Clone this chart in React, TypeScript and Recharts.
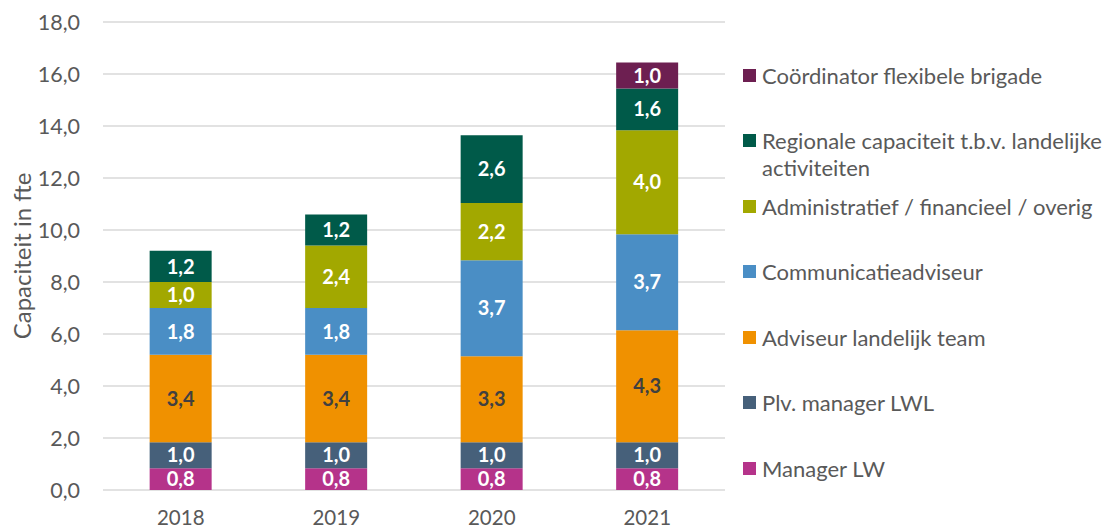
import { BarChart, Bar, XAxis, YAxis, CartesianGrid, Legend, LabelList, Label } from "recharts";

const years = ["2018", "2019", "2020", "2021"];

const managerLW = [0.84, 0.84, 0.84, 0.84];
const plvManager = [1.0, 1.0, 1.0, 1.0];
const adviseurTeam = [3.36, 3.36, 3.3, 4.3];
const communicatie = [1.8, 1.8, 3.7, 3.7];
const administratief = [1.0, 2.4, 2.2, 4.0];
const regionaal = [1.2, 1.2, 2.6, 1.6];
const coordinator = [0, 0, 0, 1.0];

const yTicks = [0, 2, 4, 6, 8, 10, 12, 14, 16, 18];

const FONT = "Lato, 'Noto Sans', sans-serif";
const GREY = "#595959";

// bottom to top
const series = [
  { key: "managerLW", name: "Manager LW", color: "#B5338A", text: "#ffffff", values: managerLW },
  { key: "plvManager", name: "Plv. manager LWL", color: "#46607A", text: "#ffffff", values: plvManager },
  { key: "adviseurTeam", name: "Adviseur landelijk team", color: "#F09100", text: "#404040", values: adviseurTeam },
  { key: "communicatie", name: "Communicatieadviseur", color: "#4A8EC5", text: "#ffffff", values: communicatie },
  { key: "administratief", name: "Administratief / financieel / overig", color: "#A2A800", text: "#ffffff", values: administratief },
  { key: "regionaal", name: "Regionale capaciteit t.b.v. landelijke activiteiten", color: "#005A49", text: "#ffffff", values: regionaal },
  { key: "coordinator", name: "Coördinator flexibele brigade", color: "#6D1F51", text: "#ffffff", values: coordinator },
];

const data = years.map((year, i) => {
  const row: Record<string, string | number> = { year };
  series.forEach((s) => {
    row[s.key] = s.values[i];
  });
  return row;
});

const fmt = (v: number) => v.toFixed(1).replace(".", ",");

const renderLegend = () => (
  <div style={{ fontFamily: FONT, fontSize: 22, color: GREY }}>
    {[...series].reverse().map((s) => (
      <div key={s.key} style={{ height: 65.6, display: "flex", alignItems: "flex-start" }}>
        <span
          style={{
            width: 13,
            height: 13,
            background: s.color,
            marginTop: 7,
            marginRight: 6,
            flex: "none",
          }}
        />
        <span style={{ lineHeight: "27px" }}>{s.name}</span>
      </div>
    ))}
  </div>
);

export default function App() {
  return (
    <div style={{ position: "absolute", left: 0, top: 0, background: "#fff" }}>
      <BarChart
        width={1114}
        height={532}
        data={data}
        margin={{ top: 22, right: 389, bottom: 0, left: 0 }}
        barCategoryGap="30%"
      >
        <CartesianGrid vertical={false} stroke="#D9D9D9" strokeWidth={1.5} />
        <XAxis
          dataKey="year"
          height={42}
          axisLine={false}
          tickLine={false}
          tickSize={0}
          tickMargin={20}
          tick={{ fill: GREY, fontSize: 20.5, fontFamily: FONT }}
        />
        <YAxis
          width={103}
          domain={[0, 18]}
          ticks={yTicks}
          interval={0}
          axisLine={false}
          tickLine={false}
          tickSize={0}
          tickMargin={23}
          tickFormatter={fmt}
          tick={{ fill: GREY, fontSize: 21.5, fontFamily: FONT }}
        >
          <Label
            content={({ viewBox }: any) => {
              const cy = viewBox.y + viewBox.height / 2;
              return (
                <text
                  x={21}
                  y={cy}
                  transform={`rotate(-90, 21, ${cy})`}
                  textAnchor="middle"
                  dominantBaseline="central"
                  fill={GREY}
                  fontSize={24}
                  fontFamily={FONT}
                >
                  Capaciteit in fte
                </text>
              );
            }}
          />
        </YAxis>
        <Legend
          content={renderLegend}
          layout="vertical"
          align="center"
          verticalAlign="middle"
          wrapperStyle={{ left: 743, top: 61.5, width: 371, height: "auto" }}
        />
        {series.map((s) => (
          <Bar key={s.key} dataKey={s.key} name={s.name} stackId="a" fill={s.color} isAnimationActive={false}>
            <LabelList
              dataKey={s.key}
              position="center"
              formatter={(v: any) => (v ? fmt(Number(v)) : "")}
              fill={s.text}
              fontSize={20}
              fontWeight={700}
              fontFamily={FONT}
            />
          </Bar>
        ))}
      </BarChart>
    </div>
  );
}
